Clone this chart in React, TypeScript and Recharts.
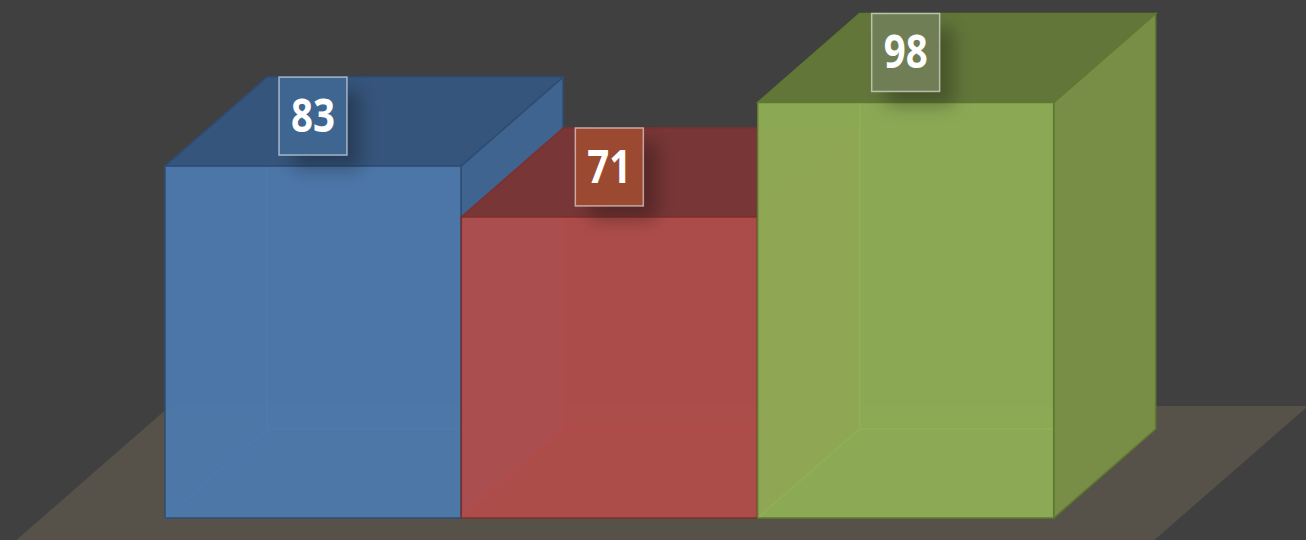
import React from "react";
import { BarChart, Bar, XAxis, YAxis, LabelList } from "recharts";

const categories = ["Blue", "Red", "Green"];
const values = [83, 71, 98];
const frontColors = ["#4d79ad", "#b24c4a", "#8fae56"];
const topColors = ["#36557c", "#783636", "#62763a"];
const sideColors = ["#3f6490", "#8a3e3c", "#788d46"];
const edgeColors = ["#2e4d74", "#7c302e", "#5f7a2e"];
const innerColors = ["#4a76b3", "#b8483f", "#96a94f"];
const labelFills = ["#3f6690", "#9b4a31", "#6f7e55"];

const data = categories.map((name, i) => ({ name, value: values[i] }));

const W = 1306;
const H = 540;
const DX = 102;
const DY = 89;
const MARGIN = { top: 94, right: 252, bottom: 22, left: 165 };

function Floor({ base }: { base: number }) {
  const backY = base - 112;
  const frontY = H + 30;
  const shift = ((frontY - backY) * DX) / DY;
  const l = MARGIN.left + 5;
  const r = W + 2;
  return (
    <polygon
      points={`${l},${backY} ${r},${backY} ${r - shift},${frontY} ${l - shift},${frontY}`}
      fill="#56524a"
    />
  );
}

function Box(props: any) {
  const { x, y, width, height, index } = props;
  const b = y + height;
  const r = x + width;
  const edge = edgeColors[index];
  return (
    <g>
      {index === 0 && <Floor base={b} />}
      <path
        d={`M${x},${b} L${x + DX},${b - DY} L${r + DX},${b - DY} M${x + DX},${b - DY} L${x + DX},${y - DY}`}
        stroke={innerColors[index]}
        strokeWidth={2}
        fill="none"
      />
      <polygon
        points={`${r},${y} ${r + DX},${y - DY} ${r + DX},${b - DY} ${r},${b}`}
        fill={sideColors[index]}
        stroke={edge}
        strokeWidth={1.5}
      />
      <polygon
        points={`${x},${y} ${x + DX},${y - DY} ${r + DX},${y - DY} ${r},${y}`}
        fill={topColors[index]}
        stroke={edge}
        strokeWidth={1.5}
      />
      <rect
        x={x}
        y={y}
        width={width}
        height={height}
        fill={frontColors[index]}
        fillOpacity={0.94}
        stroke={edge}
        strokeWidth={1.5}
      />
    </g>
  );
}

function BoxLabel(props: any) {
  const { x, y, width, value, index } = props;
  const bw = 68;
  const bh = 78;
  const cx = x + width / 2;
  const top = y - DY;
  return (
    <g>
      <rect
        x={cx - bw / 2 + 14}
        y={top + 14}
        width={bw}
        height={bh}
        fill="#000"
        fillOpacity={0.28}
        filter="url(#lblShadow)"
      />
      <rect
        x={cx - bw / 2}
        y={top}
        width={bw}
        height={bh}
        fill={labelFills[index]}
        stroke="rgba(255,255,255,0.55)"
        strokeWidth={1.5}
      />
      <text
        x={cx}
        y={top + bh / 2 - 2}
        textAnchor="middle"
        dominantBaseline="central"
        fill="#ffffff"
        fontSize={46}
        fontWeight={700}
        fontFamily="'Open Sans', sans-serif"
        textLength={44}
        lengthAdjust="spacingAndGlyphs"
      >
        {value}
      </text>
    </g>
  );
}

export default function App() {
  return (
    <div style={{ position: "absolute", left: 0, top: 0, width: W, height: H, background: "#404040" }}>
      <BarChart width={W} height={H} data={data} margin={MARGIN} barCategoryGap={0} barGap={0}>
        <defs>
          <filter id="lblShadow" x="-50%" y="-50%" width="200%" height="200%">
            <feGaussianBlur stdDeviation="9" />
          </filter>
        </defs>
        <XAxis dataKey="name" hide />
        <YAxis domain={[0, 100]} hide />
        <Bar dataKey="value" shape={<Box />} isAnimationActive={false}>
          <LabelList dataKey="value" content={<BoxLabel />} />
        </Bar>
      </BarChart>
    </div>
  );
}
